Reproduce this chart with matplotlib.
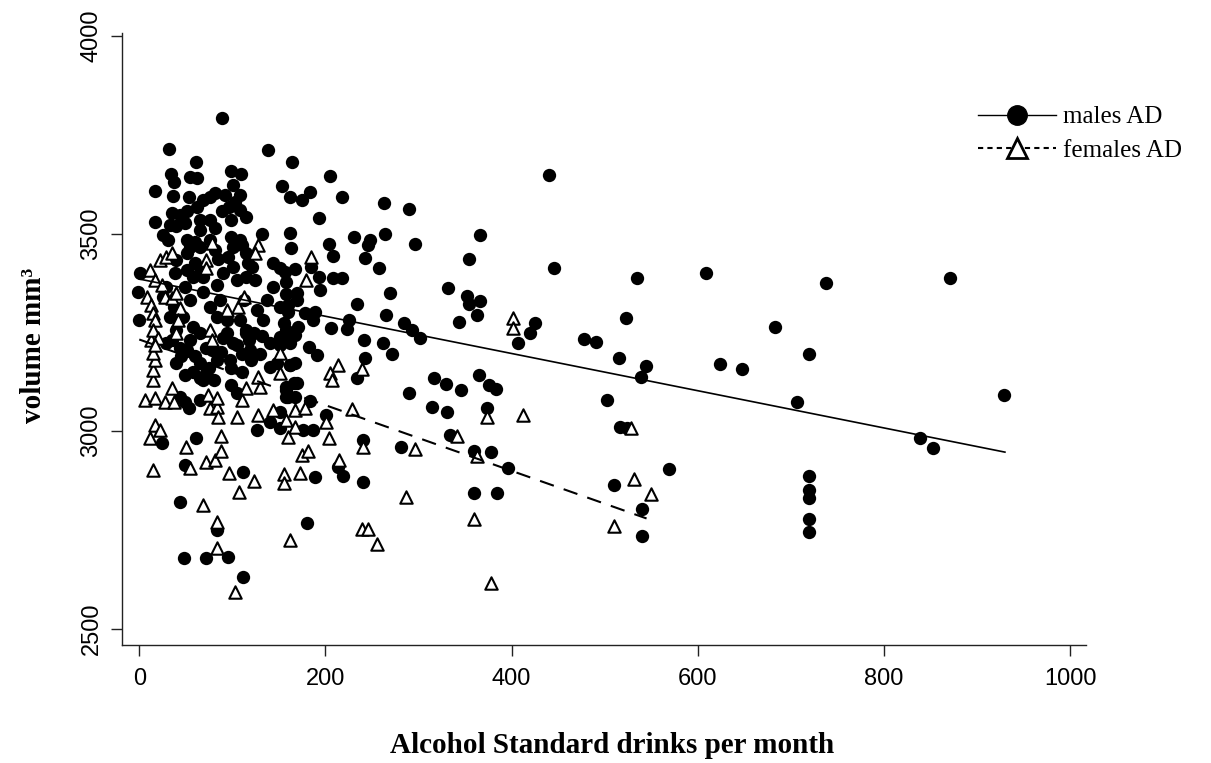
import matplotlib
matplotlib.use('Agg')
from matplotlib import pyplot as plt
from matplotlib.lines import Line2D
import numpy as np

# males AD: drinks per month, volume mm3
male_x = [535, 609, 738, 871, 523, 478, 491, 683, 515, 544, 539, 624, 647, 720, 707, 929, 502, 516, 524, 839,
          853, 569, 510, 540, 540, 720, 720, 720, 720, 720, 446, 440, 89, 138,
          164, 205, 218, 162, 175, 183, 153, 193, 263, 290, 366, 296, 162, 163, 231, 248, 246, 264, 204, 208,
          243, 258, 354, 157, 167, 184, 193, 208, 218, 158, 169, 194, 269, 234, 332, 352, 366, 354, 363, 343,
          425, 420, 407, 160, 178, 189, 187, 225, 265, 206, 284, 293, 302, 241, 262, 182,
          272, 191, 243, 234, 317, 330, 346, 365, 376, 383, 290, 315, 331, 374, 334, 360, 378, 396, 360, 384,
          201, 183, 169, 151, 176, 187, 240, 281, 214, 219, 189, 240, 180,
          24, 61, 49, 111, 44, 84, 48, 72, 95, 111, 44, 49, 53, 65, 69, 80, 99, 105, 99, 110, 126, 140, 151,
          140, 162, 105, 115, 157, 166, 158, 29, 51, 40, 65, 72, 83, 65, 49, 98, 119, 140, 148, 158, 123,
          32, 61, 34, 37, 54, 62, 17, 36, 53, 99, 109, 101, 108, 17, 35, 44, 51, 62, 69, 76, 81, 92, 96, 89,
          103, 108, 115, 33, 40, 49, 26, 31, 65, 76, 81, 65, 99, 99, 108, 101, 51, 60, 55, 65, 76, 81, 1, -1,
          0, 144, 151, 121, 124, 158, 169, 160,
          51, 60, 51, 65, 69, 58, 49, 55, 69, 83, 90, 101, 105, 115, 76, 87, 94, 108, 115, 47, 58, 37, 33,
          40, 35, 55, 65, 83, 94, 101, 112, 126, 133, 144, 137, 29, 26, 40, 38, 115, 117,
          151, 155, 158, 151, 162, 171, 167, 223, 151, 162, 167, 158, 160, 167,
          88, 78, 110, 120, 130, 45, 60, 95, 85, 110, 132, 58, 72, 90, 118, 132, 44, 75]
male_y = [3387, 3401, 3376, 3388, 3286, 3233, 3226, 3263, 3186, 3166, 3137, 3171, 3158, 3195, 3073, 3092, 3080,
          3011, 3007, 2983, 2957, 2904, 2863, 2803, 2735, 2887, 2851, 2830, 2777, 2746, 3413, 3648, 3792, 3711,
          3680, 3646, 3593, 3593, 3585, 3606, 3620, 3539, 3577, 3562, 3497, 3473, 3501, 3463, 3491, 3484, 3471,
          3499, 3473, 3444, 3439, 3412, 3435, 3404, 3410, 3416, 3391, 3387, 3387, 3347, 3349, 3357, 3349, 3322,
          3362, 3343, 3330, 3322, 3294, 3276, 3273, 3248, 3222, 3302, 3298, 3302, 3281, 3281, 3294, 3260, 3273,
          3256, 3235, 3231, 3222, 3214,
          3195, 3193, 3184, 3134, 3135, 3119, 3104, 3142, 3117, 3106, 3097, 3062, 3048, 3058, 2990, 2951, 2948,
          2906, 2844, 2844, 3041, 3077, 3121, 3007, 3003, 3003, 2978, 2959, 2910, 2887, 2883, 2871, 2768,
          2969, 2982, 2914, 2897, 2821, 2750, 2678, 2680, 2682, 2630, 3087, 3075, 3058, 3079, 3130, 3130, 3117,
          3096, 3159, 3151, 3003, 3024, 3049, 3163, 3167, 3218, 3248, 3239, 3121, 3087, 3222, 3205, 3172, 3172,
          3146, 3180, 3134, 3142, 3180, 3205, 3222, 3172, 3113, 3248,
          3713, 3680, 3651, 3631, 3644, 3640, 3609, 3596, 3593, 3659, 3651, 3623, 3598, 3530, 3551, 3547, 3556,
          3568, 3585, 3593, 3602, 3598, 3568, 3556, 3581, 3560, 3543, 3522, 3518, 3526, 3497, 3484, 3534, 3534,
          3513, 3509, 3534, 3492, 3484, 3467, 3484, 3480, 3467, 3467, 3484, 3459, 3400, 3353, 3281, 3425, 3412,
          3416, 3383, 3378, 3332, 3320,
          3450, 3425, 3408, 3412, 3391, 3391, 3366, 3332, 3353, 3370, 3400, 3416, 3383, 3391, 3315, 3332, 3281,
          3281, 3256, 3290, 3264, 3315, 3290, 3256, 3231, 3231, 3248, 3290, 3248, 3222, 3332, 3307, 3281, 3366,
          3332, 3366, 3340, 3433, 3400, 3450, 3425,
          3315, 3273, 3256, 3239, 3222, 3264, 3243, 3259, 3218, 3167, 3172, 3104, 3087, 3087,
          3200, 3205, 3195, 3180, 3195, 3190, 3190, 3440, 3435, 3470, 3500, 3150, 3210, 3235, 3230, 3240, 3210,
          3160]

# females AD
female_x = [528, 532, 550, 510, 185, 179, 402, 402,
            214, 205, 207, 239, 374, 412, 341, 363, 360, 378, 229, 201, 167, 178, 158, 167, 160, 204, 240, 296,
            175, 181, 215, 173, 155, 155, 287, 162, 239, 246, 255,
            15, 12, 17, 22, 50, 54, 88, 72, 81, 88, 96, 107, 123, 69, 84, 83, 103, 6, 17, 28, 37, 15, 35, 15,
            17, 15, 13, 76, 83, 85, 105, 74, 83, 115, 130, 128, 110, 128, 144, 151, 151,
            128, 124, 22, 12, 17, 24, 29, 35, 8, 13, 15, 17, 15, 20, 17, 28, 35, 40, 44, 42, 40, 76, 78, 72,
            72, 78, 94, 106, 112]
female_y = [3008, 2880, 2842, 2761, 3442, 3383, 3286, 3260,
            3167, 3146, 3130, 3157, 3035, 3041, 2988, 2937, 2777, 2615, 3055, 3024, 3054, 3058, 3028, 3011, 2986,
            2982, 2959, 2955, 2940, 2951, 2927, 2895, 2892, 2870, 2833, 2725, 2752, 2752, 2714,
            2902, 2982, 3016, 3003, 2961, 2906, 2988, 2923, 2927, 2951, 2893, 2845, 2875, 2813, 2771, 2704, 2594,
            3079, 3083, 3075, 3075, 3130, 3109, 3155, 3180, 3197, 3231, 3058, 3062, 3037, 3035, 3092, 3083, 3109,
            3113, 3138, 3079, 3041, 3054, 3197, 3146,
            3471, 3450, 3433, 3408, 3383, 3370, 3442, 3450, 3340, 3319, 3298, 3281, 3256, 3235, 3218, 3340, 3336,
            3349, 3311, 3281, 3248, 3256, 3231, 3433, 3412, 3476, 3307, 3315, 3340]

# fitted lines (intercept, slope, x range)
male_fit = (3385, -0.471)
male_range = (0, 930)
female_fit = (3232, -0.831)
female_range = (0, 545)

fig = plt.figure(figsize=(12.11, 7.63), dpi=100)
ax = fig.add_axes([0.1007, 0.155, 0.796, 0.8017])

ax.scatter(male_x, male_y, s=92, marker='o', color='black', linewidths=0, zorder=2)
ax.scatter(female_x, female_y, s=80, marker='^', facecolors='white', edgecolors='black', linewidths=1.5, zorder=3)

xm = np.array(male_range)
ax.plot(xm, male_fit[0] + male_fit[1] * xm, color='black', lw=1.2, zorder=4)
xf = np.array(female_range)
ax.plot(xf, female_fit[0] + female_fit[1] * xf, color='black', lw=1.5, linestyle=(0, (7, 5)), zorder=4)

ax.set_xlim(-18.6, 1017)
ax.set_ylim(2459.5, 4007.6)
ax.set_xticks([0, 200, 400, 600, 800, 1000])
ax.set_yticks([2500, 3000, 3500, 4000])

for side in ['top', 'right']:
    ax.spines[side].set_visible(False)
for side in ['left', 'bottom']:
    ax.spines[side].set_linewidth(1.0)
    ax.spines[side].set_color('#222222')

ax.tick_params(axis='both', direction='out', length=8, width=1.0, color='#222222',
               labelsize=17)
ax.tick_params(axis='x', pad=9)
ax.tick_params(axis='y', pad=6)
for lab in ax.get_xticklabels() + ax.get_yticklabels():
    lab.set_family('Liberation Sans')
for lab in ax.get_yticklabels():
    lab.set_rotation(90)
    lab.set_va('center')

ax.set_xlabel('Alcohol Standard drinks per month', family='Liberation Serif', fontsize=21, fontweight='bold')
ax.xaxis.set_label_coords(0.508, -0.142)
ax.set_ylabel('volume mm³', family='Liberation Serif', fontsize=21, fontweight='bold', va='center')
ax.yaxis.set_label_coords(-0.0915, 0.49)

handles = [Line2D([], [], color='black', lw=1.0, marker='o', markersize=14),
           Line2D([], [], color='black', lw=1.5, linestyle=(0, (2.5, 2)), marker='^', markersize=14,
                  markerfacecolor='white', markeredgewidth=2)]
ax.legend(handles, ['males AD', 'females AD'], loc='center left', bbox_to_anchor=(978 / 1211, 1 - 134 / 763),
          bbox_transform=fig.transFigure, frameon=False, borderpad=0, borderaxespad=0,
          handlelength=3.1, handletextpad=0.3, labelspacing=0.45,
          prop={'family': 'Liberation Serif', 'size': 18})

plt.savefig('out.png', dpi=100)
plt.close('all')
